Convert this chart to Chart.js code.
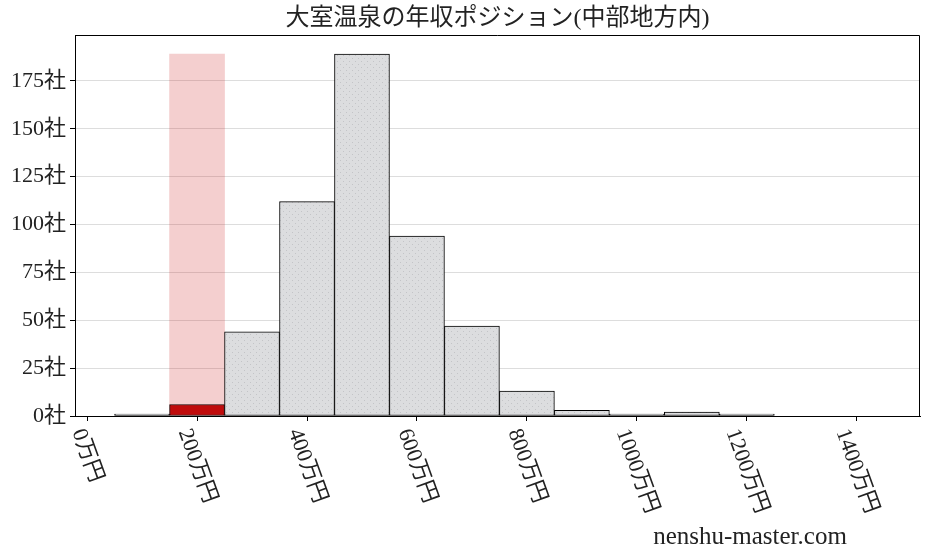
<!DOCTYPE html>
<html>
<head>
<meta charset="utf-8">
<script src="https://cdn.jsdelivr.net/npm/chart.js@4"></script>
<style>
  body { margin: 0; background: #fff; }
  #wrap { width: 928px; height: 557px; position: relative; }
</style>
</head>
<body>
<div id="wrap"><canvas id="chart"></canvas></div>
<script>
// 年収の階級（万円, 階級の中央）と社数
const binCenters = [100, 200, 300, 400, 500, 600, 700, 800, 900, 1000, 1100, 1200];
const counts = [1, 6, 44, 112, 189, 94, 47, 13, 3, 1, 2, 1];
const highlightBin = 200;  // 大室温泉の位置
const xTicks = [0, 200, 400, 600, 800, 1000, 1200, 1400];
const yTicks = [0, 25, 50, 75, 100, 125, 150, 175];

const titleText = '大室温泉の年収ポジション(中部地方内)';
const siteText = 'nenshu-master.com';
const FONT = '"Liberation Serif", "Noto Sans CJK JP", serif';

// 灰色の点模様
function dotPattern() {
    const c = document.createElement('canvas');
    c.width = 12; c.height = 6;
    const g = c.getContext('2d');
    g.fillStyle = '#dcdddf';
    g.fillRect(0, 0, 12, 6);
    g.fillStyle = '#c3c4c7';
    g.fillRect(1, 1, 1, 1);
    g.fillRect(7, 1, 1, 1);
    g.fillRect(4, 4, 1, 1);
    g.fillRect(10, 4, 1, 1);
    return g.createPattern(c, 'repeat');
}

const grayData = binCenters
    .map((x, i) => ({ x: x, y: counts[i] }))
    .filter(p => p.x !== highlightBin);
const redData = binCenters
    .map((x, i) => ({ x: x, y: counts[i] }))
    .filter(p => p.x === highlightBin);
const bandData = [{ x: highlightBin, y: Math.max(...counts) }];

const decor = {
    id: 'decor',
    afterDraw(chart) {
        const ctx = chart.ctx;
        const { left, right, top, bottom } = chart.chartArea;
        ctx.save();
        // 枠線
        ctx.strokeStyle = '#000';
        ctx.lineWidth = 1;
        ctx.beginPath();
        ctx.moveTo(left, top + 0.5);
        ctx.lineTo(right - 0.5, top + 0.5);
        ctx.lineTo(right - 0.5, bottom);
        ctx.stroke();

        // タイトル
        ctx.fillStyle = '#222';
        ctx.font = '24px ' + FONT;
        ctx.textAlign = 'center';
        ctx.textBaseline = 'middle';
        ctx.fillText(titleText, (left + right) / 2, top / 2 + 1);

        // x軸ラベル（回転）
        const xs = chart.scales.x;
        const ang = 70 * Math.PI / 180;
        ctx.font = '22px ' + FONT;
        xTicks.forEach(v => {
            const t = v + '万円';
            const w = ctx.measureText(t).width;
            const h = 22;
            const bh = w * Math.sin(ang) + h * Math.cos(ang);
            ctx.save();
            ctx.translate(xs.getPixelForValue(v), bottom + 10 + bh / 2);
            ctx.rotate(ang);
            ctx.fillText(t, 0, 0);
            ctx.restore();
        });

        // サイト名
        ctx.font = '25px ' + FONT;
        ctx.fillText(siteText, 750, 537);
        ctx.restore();
    }
};

new Chart(document.getElementById('chart'), {
    type: 'bar',
    data: {
        datasets: [
            {
                data: redData,
                backgroundColor: '#c00b0b',
                borderColor: '#1a0000',
                borderWidth: 1,
                borderSkipped: false,
                order: 0
            },
            {
                data: grayData,
                backgroundColor: dotPattern(),
                borderColor: '#000',
                borderWidth: 1,
                borderSkipped: false,
                order: 1
            },
            {
                data: bandData,
                backgroundColor: 'rgba(205, 35, 35, 0.22)',
                borderWidth: 0,
                order: 2
            }
        ]
    },
    options: {
        responsive: true,
        maintainAspectRatio: false,
        animation: false,
        grouped: false,
        barPercentage: 1,
        categoryPercentage: 1,
        layout: { padding: { left: 0, right: 8, top: 35, bottom: 0 } },
        plugins: {
            legend: { display: false },
            tooltip: { enabled: false },
            title: { display: false }
        },
        scales: {
            x: {
                type: 'linear',
                min: -22,
                max: 1515,
                offset: false,
                afterBuildTicks: s => { s.ticks = xTicks.map(v => ({ value: v })); },
                afterFit: s => { s.height = 141; },
                ticks: { display: false },
                grid: { offset: false, drawOnChartArea: false, tickColor: '#000', tickLength: 5 },
                border: { color: '#000', width: 1 }
            },
            y: {
                min: 0,
                max: 199,
                afterBuildTicks: s => { s.ticks = yTicks.map(v => ({ value: v })); },
                afterFit: s => { s.width = 75; },
                ticks: {
                    color: '#222',
                    font: { family: FONT, size: 22 },
                    padding: 4,
                    callback: v => v + '社'
                },
                grid: { color: '#dddddd', tickColor: '#000', tickLength: 5 },
                border: { color: '#000', width: 1 }
            }
        }
    },
    plugins: [decor]
});
</script>
</body>
</html>
